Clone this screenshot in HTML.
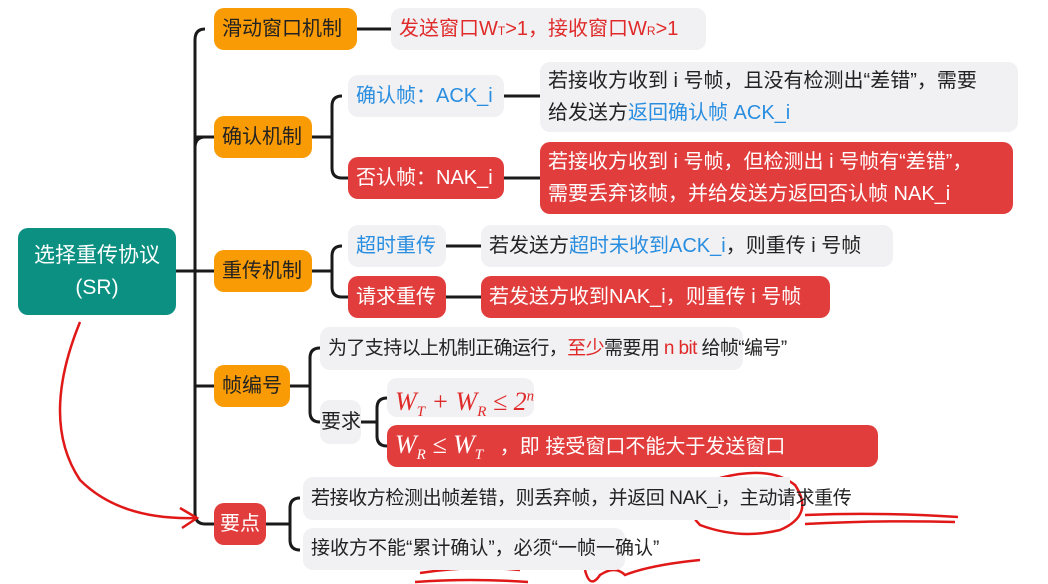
<!DOCTYPE html>
<html><head><meta charset="utf-8"><style>
body{margin:0;width:1048px;height:584px;background:#fff;position:relative;overflow:hidden;font-family:"Liberation Sans","Noto Sans CJK SC",sans-serif;}
.n{position:absolute;box-sizing:border-box;border-radius:10px;font-size:20px;padding:0 8px;white-space:nowrap;color:#222;}
.o{background:#f99b05;}
.r{background:#e23d3d;color:#fff;}
.g{background:#f1f1f3;}
.b{color:#2a8ee0;}
.red{color:#e02a2a;}
.m{font-family:"Liberation Serif",serif;font-style:italic;font-size:26px;}
.s{font-size:12px;}
.m sub{font-size:15px;}
svg{position:absolute;left:0;top:0;}
</style></head><body>
<svg width="1048" height="584" fill="none" stroke="#1a1a1a" stroke-width="3">
<path d="M176 271H195M205 29Q195 29 195 40V513Q195 524 205 524H214M195 137Q195 137 205 137H214M195 271H214M195 386H214M205 137Q195 137 195 148"/>
<path d="M357 29H391"/>
<path d="M312 137H332M342 96Q332 96 332 106V168Q332 178 342 178H348M504 96H540M504 178H540"/>
<path d="M312 271H332M342 246Q332 246 332 256V287Q332 297 342 297H348M446 246H481M446 297H481"/>
<path d="M290 386H310M320 348Q310 348 310 358V412Q310 422 320 422"/>
<path d="M361 422H377M387 398Q377 398 377 408V436Q377 446 387 446"/>
<path d="M266 524H290M300 498Q290 498 290 508V540Q290 550 300 550"/>
<g stroke="#e01818" stroke-width="2.5">
<path d="M80 322Q40 420 80 480Q120 520 195 518"/><path d="M180 508L197 518L182 528"/>
<path d="M720 478Q770 465 795 485Q815 515 780 530Q740 540 700 525Q680 505 700 485"/>
<path d="M805 515Q880 512 958 517M805 524Q880 520 955 522"/>
<path d="M420 573Q470 565 520 570M415 582Q470 578 528 582"/><path d="M585 570Q590 590 600 575Q615 565 625 575Q650 565 700 560"/>
</g>
</svg>
<div class="n" style="left:18px;top:228px;width:158px;height:87px;background:#0b9082;color:#fff;font-size:21px;text-align:center;line-height:32px;padding-top:12px;">选择重传协议<br>(SR)</div>
<div class="n o" style="left:214px;top:8px;width:143px;height:42px;line-height:42px;">滑动窗口机制</div>
<div class="n o" style="left:214px;top:116px;width:98px;height:42px;line-height:42px;">确认机制</div>
<div class="n o" style="left:214px;top:250px;width:98px;height:42px;line-height:42px;">重传机制</div>
<div class="n o" style="left:214px;top:365px;width:76px;height:42px;line-height:42px;">帧编号</div>
<div class="n r" style="left:214px;top:503px;width:52px;height:42px;line-height:42px;padding:0 6px;">要点</div>
<div class="n g red" style="left:391px;top:8px;width:315px;height:42px;line-height:42px;">发送窗口W<span class="s">T</span>&gt;1，接收窗口W<span class="s">R</span>&gt;1</div>
<div class="n g b" style="left:348px;top:75px;width:156px;height:42px;line-height:42px;">确认帧：ACK_i</div>
<div class="n r" style="left:348px;top:157px;width:156px;height:42px;line-height:42px;">否认帧：NAK_i</div>
<div class="n g" style="left:540px;top:62px;width:478px;height:70px;line-height:32px;padding-top:3px;">若接收方收到 i 号帧，且没有检测出“差错”，需要<br>给发送方<span class="b">返回确认帧 ACK_i</span></div>
<div class="n r" style="left:540px;top:142px;width:473px;height:72px;line-height:32px;padding-top:4px;">若接收方收到 i 号帧，但检测出 i 号帧有“差错”，<br>需要丢弃该帧，并给发送方返回否认帧 NAK_i</div>
<div class="n g b" style="left:348px;top:225px;width:98px;height:42px;line-height:42px;">超时重传</div>
<div class="n g" style="left:481px;top:225px;width:412px;height:42px;line-height:42px;">若发送方<span class="b">超时未收到ACK_i</span>，则重传 i 号帧</div>
<div class="n r" style="left:348px;top:276px;width:98px;height:42px;line-height:42px;">请求重传</div>
<div class="n r" style="left:481px;top:276px;width:349px;height:42px;line-height:42px;">若发送方收到NAK_i，则重传 i 号帧</div>
<div class="n g" style="left:320px;top:327px;width:423px;height:43px;line-height:43px;font-size:19px;letter-spacing:-0.6px;">为了支持以上机制正确运行，<span class="red">至少</span>需要用 <span class="red">n bit</span> 给帧“编号”</div>
<div class="n g" style="left:320px;top:400px;width:41px;height:44px;line-height:44px;padding:0 0 0 1px;">要求</div>
<div class="n g red" style="left:387px;top:378px;width:147px;height:39px;line-height:36px;"><span class="m">W<sub>T</sub> + W<sub>R</sub> ≤ 2<sup style="font-size:15px">n</sup></span></div>
<div class="n r" style="left:387px;top:425px;width:491px;height:42px;line-height:40px;"><span class="m">W<sub>R</sub> ≤ W<sub>T</sub></span>&nbsp;&nbsp;&nbsp;，即 接受窗口不能大于发送窗口</div>
<div class="n g" style="left:303px;top:477px;width:650px;height:43px;line-height:43px;background:linear-gradient(90deg,#f1f1f3 0 487px,transparent 487px);font-size:19px;letter-spacing:-0.4px;">若接收方检测出帧差错，则丢弃帧，并返回 NAK_i，主动请求重传</div>
<div class="n g" style="left:303px;top:528px;width:322px;height:42px;line-height:42px;font-size:19px;">接收方不能“累计确认”，必须“一帧一确认”</div>
</body></html>
